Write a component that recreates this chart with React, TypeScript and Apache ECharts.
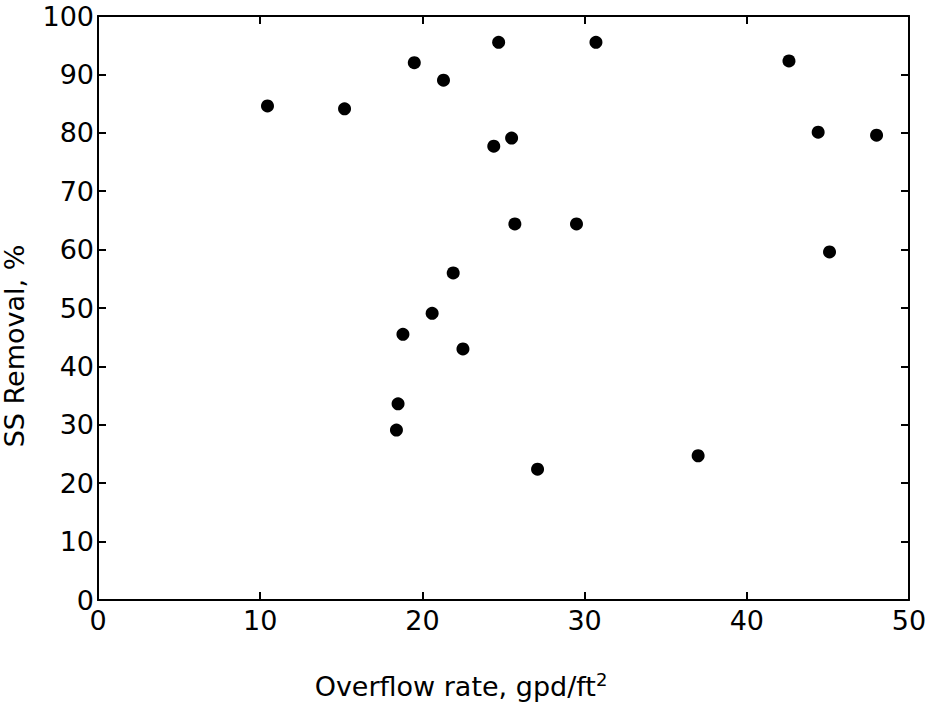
import React, { useEffect, useRef } from "react";
import * as echarts from "echarts";

const overflowRate: number[] = [
  10.45, 15.2, 19.5, 21.3, 24.7, 30.7, 24.4, 25.5, 25.7, 29.5, 21.9,
  20.6, 18.8, 22.5, 18.5, 18.4, 27.1, 37.0, 42.6, 44.4, 45.1, 48.0,
];
const ssRemoval: number[] = [
  84.6, 84.1, 92.0, 89.0, 95.5, 95.5, 77.7, 79.1, 64.4, 64.4, 56.0,
  49.1, 45.5, 43.0, 33.6, 29.1, 22.4, 24.7, 92.3, 80.1, 59.6, 79.6,
];
const xTicks = { min: 0, max: 50, interval: 10 };
const yTicks = { min: 0, max: 100, interval: 10 };
const xTitle = "Overflow rate, gpd/ft";
const xTitleSup = "2";
const yTitle = "SS Removal, %";

export default function App() {
  const ref = useRef<HTMLDivElement>(null);
  useEffect(() => {
    if (!ref.current) return;
    const chart = echarts.init(ref.current, null, { renderer: "svg" });
    const font = "DejaVu Sans";
    const axisLine = { show: true, onZero: false, lineStyle: { color: "#000", width: 2 } };
    const axisTick = { show: true, inside: true, length: 8, lineStyle: { color: "#000", width: 2 } };
    const label = { color: "#000", fontFamily: font, fontSize: 27 };
    chart.setOption({
      animation: false,
      backgroundColor: "#fff",
      grid: {
        left: 98,
        right: 29,
        top: 16,
        bottom: 108,
        containLabel: false,
        outerBoundsMode: "none",
      },
      xAxis: [
        {
          type: "value",
          ...xTicks,
          position: "bottom",
          axisLine,
          axisTick,
          splitLine: { show: false },
          axisLabel: { ...label, margin: 7 },
          name: `${xTitle}{sup|${xTitleSup}}`,
          nameLocation: "middle",
          nameGap: 70,
          nameTextStyle: {
            color: "#000",
            fontFamily: font,
            fontSize: 27,
            padding: [0, 85, 0, 0],
            rich: { sup: { fontSize: 18, fontFamily: font, color: "#000", padding: [0, 0, 14, 0] } },
          },
        },
        {
          type: "value",
          ...xTicks,
          position: "top",
          axisLine,
          axisTick,
          splitLine: { show: false },
          axisLabel: { show: false },
        },
      ],
      yAxis: [
        {
          type: "value",
          ...yTicks,
          position: "left",
          axisLine,
          axisTick,
          splitLine: { show: false },
          axisLabel: { ...label, margin: 4 },
          name: yTitle,
          nameLocation: "middle",
          nameGap: 70,
          nameTextStyle: {
            color: "#000",
            fontFamily: font,
            fontSize: 27,
            padding: [0, 76, 0, 0],
          },
        },
        {
          type: "value",
          ...yTicks,
          position: "right",
          axisLine,
          axisTick,
          splitLine: { show: false },
          axisLabel: { show: false },
        },
      ],
      series: [
        {
          type: "scatter",
          xAxisIndex: 0,
          yAxisIndex: 0,
          symbol: "circle",
          symbolSize: 13,
          itemStyle: { color: "#000", opacity: 1 },
          data: overflowRate.map((x, i) => [x, ssRemoval[i]]),
        },
      ],
    });
    return () => chart.dispose();
  }, []);
  return (
    <div
      ref={ref}
      style={{ position: "absolute", left: 0, top: 0, width: 938, height: 708 }}
    />
  );
}
